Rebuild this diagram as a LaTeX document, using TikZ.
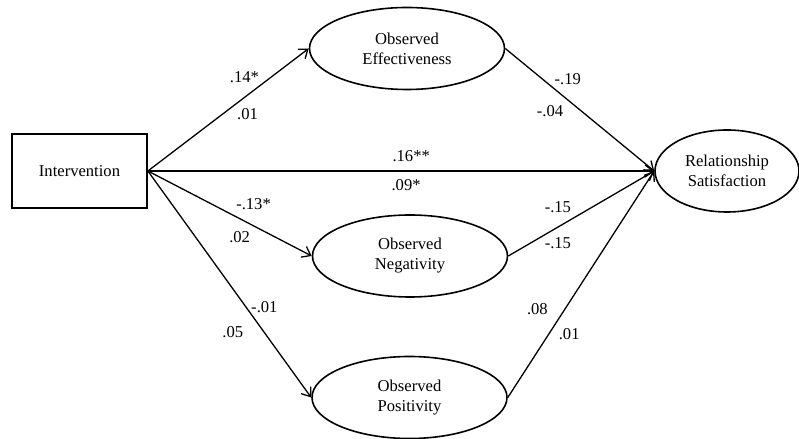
\documentclass[tikz,border=0pt]{standalone}
\usepackage{fontspec}
\setmainfont{Liberation Serif}
\usetikzlibrary{arrows.meta,shapes.geometric}
\tikzset{
  >={Straight Barb[length=4pt,width=6pt]},
  every node/.style={font=\fontsize{8.3}{10}\selectfont},
  varbox/.style={draw,line width=0.9pt,minimum width=67.5pt,minimum height=37pt,align=center},
  latent/.style={draw,ellipse,line width=0.8pt,minimum width=97.5pt,minimum height=41pt,align=center,inner sep=1pt},
  arrow/.style={->,line width=0.65pt},
  coef/.style={inner sep=1pt},
}

\begin{document}
\begin{tikzpicture}[x=0.5pt,y=0.5pt]
\useasboundingbox (0,0) rectangle (799,439);

\node[varbox] (interv) at (79.5,268) {Intervention};
\node[latent] (eff) at (407,390.5) {Observed\\Effectiveness};
\node[latent] (neg) at (410,183) {Observed\\Negativity};
\node[latent] (pos) at (409.5,41.5) {Observed\\Positivity};
\node[latent,minimum width=72pt] (rel) at (727,268) {Relationship\\Satisfaction};

\draw[arrow] (interv.east) -- node[coef,pos=0.6,yshift=10pt]{.14*} node[coef,pos=0.62,yshift=-9.75pt]{.01} (eff.west);
\draw[arrow] (interv.east) -- node[coef,pos=0.52,yshift=7.5pt]{.16**} node[coef,pos=0.51,yshift=-7pt]{.09*} (rel.west);
\draw[arrow] (interv.east) -- node[coef,pos=0.645,yshift=10.75pt]{-.13*} node[coef,pos=0.56,yshift=-9.25pt]{.02} (neg.west);
\draw[arrow] (interv.east) -- node[coef,pos=0.6,xshift=9.25pt]{-.01} node[coef,pos=0.71,xshift=-15.5pt]{.05} (pos.west);
\draw[arrow] (eff.east) -- node[coef,pos=0.42,yshift=10.5pt]{-.19} node[coef,pos=0.3,yshift=-13pt]{-.04} (rel.west);
\draw[arrow] (neg.east) -- node[coef,pos=0.34,yshift=9.8pt]{-.15} node[coef,pos=0.34,yshift=-8.2pt]{-.15} (rel.west);
\draw[arrow] (pos.east) -- node[coef,pos=0.39,xshift=-13.75pt]{.08} node[coef,pos=0.28,xshift=10.2pt]{.01} (rel.west);

\end{tikzpicture}
\end{document}
